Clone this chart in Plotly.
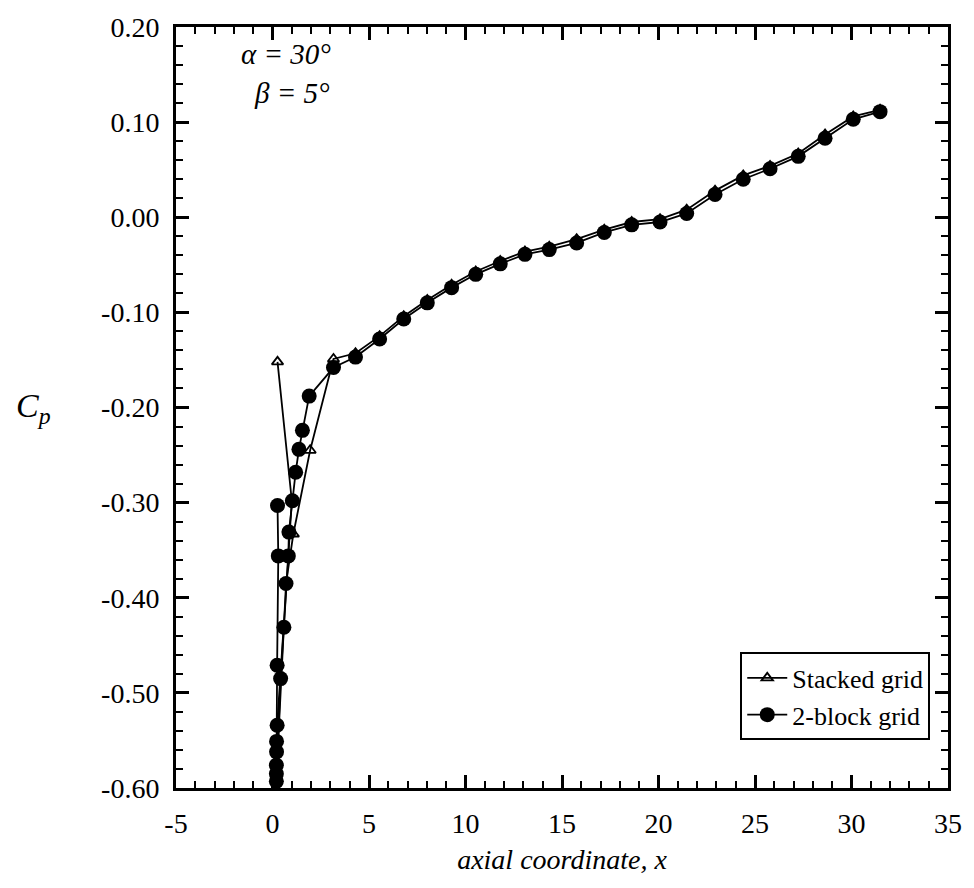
import plotly.graph_objects as go

# ---- data ----
block_x = [0.26, 0.30, 0.24, 0.24, 0.21, 0.21, 0.20, 0.20, 0.20, 0.42, 0.59, 0.70, 0.82, 0.85,
           1.03, 1.20, 1.37, 1.55, 1.90, 3.16, 4.30, 5.55, 6.80, 8.02, 9.28, 10.53, 11.80,
           13.08, 14.34, 15.76, 17.19, 18.61, 20.08, 21.46, 22.93, 24.39, 25.78, 27.24,
           28.63, 30.09, 31.48]
block_cp = [-0.303, -0.356, -0.471, -0.534, -0.551, -0.562, -0.576, -0.585, -0.593, -0.485,
            -0.431, -0.385, -0.356, -0.331, -0.298, -0.268, -0.244, -0.224, -0.188, -0.158,
            -0.147, -0.128, -0.107, -0.090, -0.074, -0.060, -0.049, -0.039, -0.034, -0.027,
            -0.016, -0.008, -0.005, 0.004, 0.024, 0.040, 0.051, 0.064, 0.083, 0.103, 0.111]

stack_x = [0.26, 1.00, 0.82, 0.59, 0.42, 0.24, 0.20, 0.70, 1.08, 1.95, 3.16,
           4.30, 5.55, 6.80, 8.02, 9.28, 10.53, 11.80, 13.08, 14.34, 15.76, 17.19, 18.61,
           20.08, 21.46, 22.93, 24.39, 25.78, 27.24, 28.63, 30.09, 31.48]
stack_cp = [-0.152, -0.298, -0.356, -0.431, -0.485, -0.534, -0.590, -0.385,
            -0.333, -0.245, -0.149, -0.143, -0.125, -0.104, -0.087, -0.071, -0.057, -0.046,
            -0.036, -0.031, -0.023, -0.013, -0.005, -0.002, 0.008, 0.028, 0.044, 0.054,
            0.067, 0.087, 0.106, 0.113]

x_ticks = [-5, 0, 5, 10, 15, 20, 25, 30, 35]
x_ticktext = ["-5", "0", "5", "10", "15", "20", "25", "30", "35"]
y_ticks = [0.2, 0.1, 0.0, -0.1, -0.2, -0.3, -0.4, -0.5, -0.6]
y_ticktext = ["0.20", "0.10", "0.00", "-0.10", "-0.20", "-0.30", "-0.40", "-0.50", "-0.60"]

FONT = "Liberation Serif, Times New Roman, serif"

fig = go.Figure()
fig.add_trace(go.Scatter(
    x=stack_x, y=stack_cp, mode="lines+markers", name="Stacked grid",
    line=dict(color="black", width=1.8),
    marker=dict(symbol="triangle-up-open", size=10, color="black", line=dict(width=1.8)),
    cliponaxis=False,
))
fig.add_trace(go.Scatter(
    x=block_x, y=block_cp, mode="lines+markers", name="2-block grid",
    line=dict(color="black", width=1.8),
    marker=dict(symbol="circle", size=15, color="black"),
    cliponaxis=False,
))

axis_common = dict(
    showgrid=False, zeroline=False, showline=True, linecolor="black", linewidth=3,
    mirror="allticks", ticks="inside", ticklen=13, tickwidth=2.5, tickcolor="black",
    tickfont=dict(family=FONT, size=28, color="black"),
)

fig.update_xaxes(
    range=[-5, 35], tickvals=x_ticks, ticktext=x_ticktext, ticklabelstandoff=8,
    minor=dict(ticks="inside", ticklen=7, tickwidth=2, tickcolor="black", dtick=1, tick0=0),
    title=dict(text="<i>axial coordinate, x</i>", font=dict(family=FONT, size=28, color="black"),
               standoff=12),
    **axis_common,
)
fig.update_yaxes(
    range=[-0.6, 0.2], tickvals=y_ticks, ticktext=y_ticktext, ticklabelstandoff=8,
    minor=dict(ticks="inside", ticklen=7, tickwidth=2, tickcolor="black", dtick=0.02, tick0=0),
    **axis_common,
)

fig.add_annotation(xref="paper", yref="paper", x=-0.21, y=0.5,
                   text="<i>C<sub>p</sub></i>", showarrow=False,
                   font=dict(family=FONT, size=34, color="black"))
fig.add_annotation(xref="paper", yref="paper", x=0.143, y=0.988, xanchor="center",
                   text="<i>α = 30°</i>", showarrow=False,
                   font=dict(family=FONT, size=29, color="black"))
fig.add_annotation(xref="paper", yref="paper", x=0.150, y=0.937, xanchor="center",
                   text="<i>β = 5°</i>", showarrow=False,
                   font=dict(family=FONT, size=29, color="black"))

fig.update_layout(
    width=974, height=888,
    margin=dict(l=176, r=24, t=20, b=100),
    paper_bgcolor="white", plot_bgcolor="white",
    showlegend=True,
    legend=dict(x=0.977, y=0.0625, xanchor="right", yanchor="bottom",
                bgcolor="white", bordercolor="black", borderwidth=2,
                font=dict(family=FONT, size=26, color="black"),
                tracegroupgap=0, itemwidth=40),
)

fig.write_html("out.html")
